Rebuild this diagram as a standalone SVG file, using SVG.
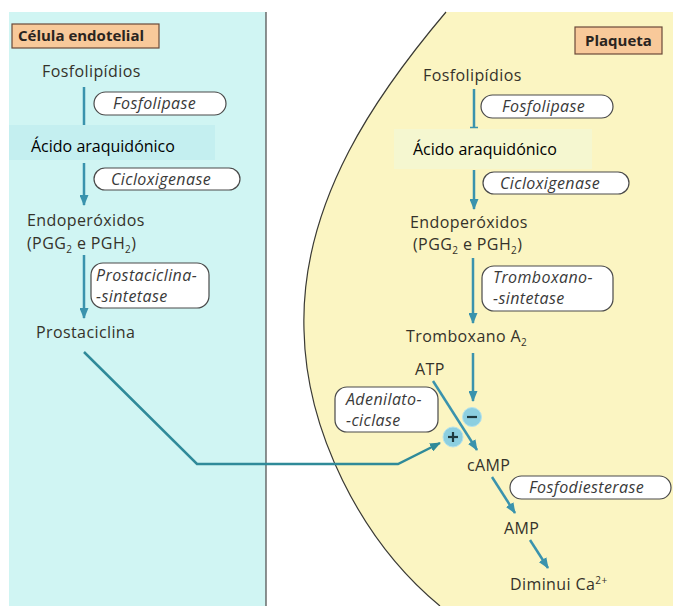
<svg xmlns="http://www.w3.org/2000/svg" width="673" height="606" viewBox="0 0 673 606">
<defs>
<marker id="ah" markerUnits="userSpaceOnUse" markerWidth="11" markerHeight="9" refX="10" refY="4.5" orient="auto">
<path d="M0,0 L11,4.5 L0,9 Z" fill="#3a93ad"/>
</marker>
<marker id="ah2" markerUnits="userSpaceOnUse" markerWidth="11" markerHeight="9" refX="10" refY="4.5" orient="auto">
<path d="M0,0 L11,4.5 L0,9 Z" fill="#2f8a99"/>
</marker>
<style>
.t{font-family:"Open Sans","Noto Sans",sans-serif;font-size:16px;fill:#35322a;letter-spacing:0.4px}
.e{font-family:"Open Sans","Noto Sans",sans-serif;font-size:16px;font-style:italic;fill:#3a3a3a;letter-spacing:0.4px}
.b{font-family:"Open Sans","Noto Sans",sans-serif;font-size:15px;font-weight:bold;fill:#2a2420}
.o{font-family:"Open Sans","Noto Sans",sans-serif;font-size:16px;fill:#000}
.pill{fill:#fff;stroke:#4a4a4a;stroke-width:1.2}
.lab{fill:#f8c99a;stroke:#6b4a3a;stroke-width:1.2}
.ar{fill:none;stroke:#3a93ad;stroke-width:2.5;marker-end:url(#ah)}
.ln{fill:none;stroke:#3a93ad;stroke-width:2.5}
</style>
</defs>
<rect x="0" y="0" width="673" height="606" fill="#ffffff"/>
<rect x="9" y="12" width="257" height="594" fill="#d0f5f3"/>
<line x1="266" y1="12" x2="266" y2="606" stroke="#555" stroke-width="1.3"/>
<path d="M446,12 C380,90 300,200 304,330 C306,430 360,540 440,606 L673,606 L673,12 Z" fill="#fbf5c2"/>
<path d="M446,12 C380,90 300,200 304,330 C306,430 360,540 440,606" fill="none" stroke="#3a3a35" stroke-width="1.2"/>

<g id="connectors">
<line class="ln" x1="84" y1="87" x2="84" y2="126"/>
<line class="ar" x1="84" y1="163" x2="84" y2="205"/>
<line class="ar" x1="84" y1="255" x2="84" y2="318"/>
<polyline points="84,352 197,464 398,464 440,443" fill="none" stroke="#2f8a99" stroke-width="2.5" marker-end="url(#ah2)"/>
<line class="ln" x1="474" y1="89" x2="474" y2="128"/>
<line x1="470" y1="127.5" x2="478" y2="127.5" stroke="#3a93ad" stroke-width="1.5"/>
<line class="ar" x1="474" y1="170" x2="474" y2="209"/>
<line class="ar" x1="473" y1="258" x2="473" y2="323"/>
<line class="ar" x1="473" y1="353" x2="473" y2="401"/>
<line class="ar" x1="433" y1="381" x2="477" y2="450"/>
<line class="ar" x1="492" y1="477" x2="515" y2="513"/>
<line class="ar" x1="530" y1="540" x2="548" y2="568"/>
</g>

<g id="label-celula">
<rect class="lab" x="12" y="24" width="147" height="24"/>
<text class="b" x="18" y="41">Célula endotelial</text>
</g>
<g id="label-plaqueta">
<rect class="lab" x="575" y="27" width="87" height="27"/>
<text class="b" x="585" y="46">Plaqueta</text>
</g>

<g id="l-fosfolipidios"><text class="t" x="42" y="77">Fosfolipídios</text></g>
<g id="l-fosfolipase">
<rect class="pill" x="94" y="92" width="132" height="23" rx="11.5"/>
<text class="e" x="113" y="109">Fosfolipase</text>
</g>
<g id="l-acido">
<rect x="9" y="125" width="206" height="35" fill="#c4eff0"/>
<text class="o" x="31" y="152">Ácido araquidónico</text>
</g>
<g id="l-cicloxigenase">
<rect class="pill" x="94" y="168" width="146" height="22" rx="11"/>
<text class="e" x="111" y="185">Cicloxigenase</text>
</g>
<g id="l-endoperoxidos">
<text class="t" x="27" y="226">Endoperóxidos</text>
<text class="t" x="27" y="249">(PGG<tspan font-size="10" dy="4">2</tspan><tspan dy="-4"> e PGH</tspan><tspan font-size="10" dy="4">2</tspan><tspan dy="-4">)</tspan></text>
</g>
<g id="l-prostaciclina-sintetase">
<rect class="pill" x="91" y="263" width="118" height="45" rx="12"/>
<text class="e" x="96" y="281">Prostaciclina-</text>
<text class="e" x="96" y="302">-sintetase</text>
</g>
<g id="l-prostaciclina"><text class="t" x="36" y="338">Prostaciclina</text></g>

<g id="r-fosfolipidios"><text class="t" x="423" y="81">Fosfolipídios</text></g>
<g id="r-fosfolipase">
<rect class="pill" x="481" y="95" width="132" height="23" rx="11.5"/>
<text class="e" x="502" y="112">Fosfolipase</text>
</g>
<g id="r-acido">
<rect x="394" y="129" width="198" height="40" fill="#f5f7d0"/>
<text class="o" x="413" y="155">Ácido araquidónico</text>
</g>
<g id="r-cicloxigenase">
<rect class="pill" x="483" y="172" width="146" height="22" rx="11"/>
<text class="e" x="500" y="189">Cicloxigenase</text>
</g>
<g id="r-endoperoxidos">
<text class="t" x="410" y="228">Endoperóxidos</text>
<text class="t" x="413" y="250">(PGG<tspan font-size="10" dy="4">2</tspan><tspan dy="-4"> e PGH</tspan><tspan font-size="10" dy="4">2</tspan><tspan dy="-4">)</tspan></text>
</g>
<g id="r-tromboxano-sintetase">
<rect class="pill" x="482" y="266" width="131" height="45" rx="12"/>
<text class="e" x="493" y="283">Tromboxano-</text>
<text class="e" x="493" y="304">-sintetase</text>
</g>
<g id="r-tromboxano"><text class="t" x="406" y="342">Tromboxano A<tspan font-size="10" dy="4">2</tspan></text></g>
<g id="r-atp"><text class="t" x="415" y="375">ATP</text></g>
<g id="r-adenilato">
<rect class="pill" x="335" y="387" width="103" height="45" rx="12"/>
<text class="e" x="346" y="405">Adenilato-</text>
<text class="e" x="346" y="426">-ciclase</text>
</g>
<g id="r-minus">
<circle cx="472" cy="417" r="9.5" fill="#8ccfe0" stroke="#b5e2ec" stroke-width="1"/>
<line x1="467" y1="417" x2="477" y2="417" stroke="#1e3a40" stroke-width="2.2"/>
</g>
<g id="r-plus">
<circle cx="453" cy="437" r="10" fill="#8ccfe0" stroke="#b5e2ec" stroke-width="1"/>
<line x1="448" y1="437" x2="458" y2="437" stroke="#1e3a40" stroke-width="2.2"/>
<line x1="453" y1="432" x2="453" y2="442" stroke="#1e3a40" stroke-width="2.2"/>
</g>
<g id="r-camp"><text class="t" x="467" y="471">cAMP</text></g>
<g id="r-fosfodiesterase">
<rect class="pill" x="510" y="476" width="161" height="23" rx="11.5"/>
<text class="e" x="529" y="493">Fosfodiesterase</text>
</g>
<g id="r-amp"><text class="t" x="504" y="534">AMP</text></g>
<g id="r-diminui"><text class="t" x="510" y="590">Diminui Ca<tspan font-size="10" dy="-6">2+</tspan></text></g>
</svg>
